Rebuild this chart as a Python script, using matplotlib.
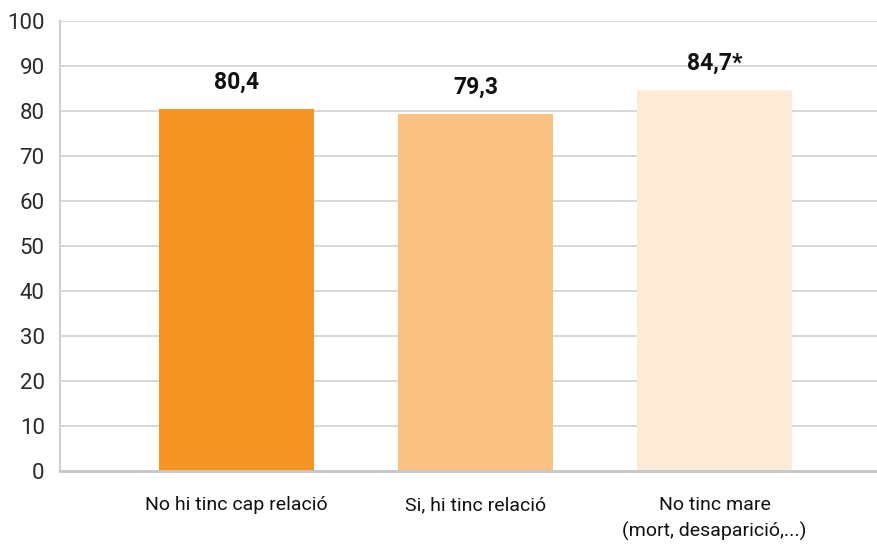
import matplotlib
matplotlib.use("Agg")
import matplotlib.pyplot as plt

categories = ["No hi tinc cap relació", "Si, hi tinc relació", "No tinc mare\n(mort, desaparició,...)"]
values = [80.4, 79.3, 84.7]
value_labels = ["80,4", "79,3", "84,7*"]
colors = ["#F39423", "#FAC282", "#FDEBD8"]
yticks = [0, 10, 20, 30, 40, 50, 60, 70, 80, 90, 100]

plt.rcParams['font.family'] = ['Roboto', 'DejaVu Sans']

fig = plt.figure(figsize=(8.78, 5.45), dpi=100)
ax = fig.add_axes([60/878, 74/545, 818/878, 450/545])

x = list(range(len(categories)))
ax.bar(x, values, width=0.65, color=colors, zorder=3)
for xi, v, lab in zip(x, values, value_labels):
    ax.annotate(lab, (xi, v), xytext=(0, 11), textcoords="offset points",
                ha="center", va="bottom", fontsize=16.5, color="#111111", fontweight="semibold")

ax.set_xlim(-0.738, 2.684)
ax.set_ylim(0, 100)
ax.set_yticks(yticks)
ax.set_yticklabels([str(t) for t in yticks], fontsize=16, color="#2a2a2a")
ax.set_xticks(x)
ax.set_xticklabels(categories, fontsize=14, color="#111111", linespacing=1.55)
ax.tick_params(axis="y", length=0, pad=11)
ax.tick_params(axis="x", length=0, pad=18)
ax.grid(axis="y", color="#D4D4D4", linewidth=1.3, zorder=0)
for s in ["top", "right"]:
    ax.spines[s].set_visible(False)
ax.spines["left"].set_color("#D0D0D0")
ax.spines["left"].set_linewidth(1.5)
ax.spines["bottom"].set_color("#C8C8C8")
ax.spines["bottom"].set_linewidth(2)
ax.spines["bottom"].set_zorder(4)

fig.savefig("out.png", dpi=100)
